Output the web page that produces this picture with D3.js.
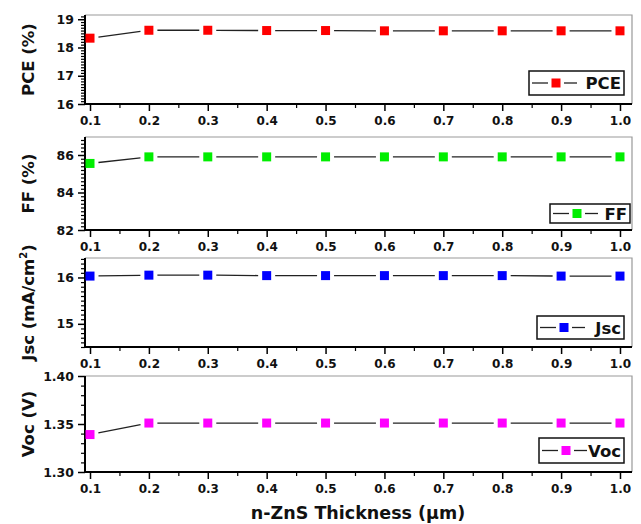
<!DOCTYPE html>
<html>
<head>
<meta charset="utf-8">
<script src="https://cdn.jsdelivr.net/npm/d3@7"></script>
<style>
  html, body { margin: 0; padding: 0; background: #fff; }
  svg { display: block; }
  text { font-family: "DejaVu Sans", Verdana, sans-serif; font-weight: bold; }
</style>
</head>
<body>
<svg id="chart" width="641" height="524"></svg>
<script>
// n-ZnS layer thickness (µm)
const thickness = [0.1, 0.2, 0.3, 0.4, 0.5, 0.6, 0.7, 0.8, 0.9, 1.0];
const xTicks = [0.1, 0.2, 0.3, 0.4, 0.5, 0.6, 0.7, 0.8, 0.9, 1.0];

// Solar cell parameters versus thickness
const pce = [18.33, 18.61, 18.61, 18.60, 18.60, 18.59, 18.59, 18.59, 18.59, 18.59];
const ff  = [85.55, 85.90, 85.90, 85.90, 85.90, 85.90, 85.90, 85.90, 85.90, 85.90];
const jsc = [16.03, 16.05, 16.05, 16.04, 16.04, 16.04, 16.04, 16.04, 16.03, 16.03];
const voc = [1.339, 1.351, 1.351, 1.351, 1.351, 1.351, 1.351, 1.351, 1.351, 1.351];

const pceTicks = [16, 17, 18, 19];
const ffTicks  = [82, 84, 86];
const jscTicks = [15, 16];
const vocTicks = [1.30, 1.35, 1.40];

const panels = [
  { name: "PCE", title: "PCE (%)", values: pce, color: "#ff0000", domain: [16, 19.15], ticks: pceTicks, minor: 0.1, fmt: d3.format("d"),
    top: 15, bottom: 104, legend: { x: 529, y: 71, w: 95, h: 24 } },
  { name: "FF", title: "FF (%)", values: ff, color: "#00ee00", domain: [82, 86.96], ticks: ffTicks, minor: 0.2, fmt: d3.format("d"),
    top: 137, bottom: 230, legend: { x: 550, y: 204, w: 80, h: 19 } },
  { name: "Jsc", title: "Jsc (mA/cm", sup: "2", titleEnd: ")", values: jsc, color: "#0000ff", domain: [14.5, 16.42], ticks: jscTicks, minor: 0.1, fmt: d3.format("d"),
    top: 258, bottom: 347, legend: { x: 537, y: 316, w: 87, h: 23 } },
  { name: "Voc", title: "Voc (V)", values: voc, color: "#ff00ff", domain: [1.30, 1.40], ticks: vocTicks, minor: 0.01, fmt: d3.format(".2f"),
    top: 376, bottom: 472, legend: { x: 539, y: 438, w: 85, h: 25 } }
];

const svg = d3.select("#chart");
const left = 85, right = 632;
const x = d3.scaleLinear().domain([0.0915, 1.0204]).range([left, right]);

const xMinor = d3.range(0.15, 1.0, 0.1);

panels.forEach(p => {
  const y = d3.scaleLinear().domain(p.domain).range([p.bottom, p.top]);
  const g = svg.append("g");

  // frame: light top/right edges
  g.append("path")
    .attr("d", `M${left},${p.top}H${right}V${p.bottom}`)
    .attr("fill", "none").attr("stroke", "#999").attr("stroke-width", 1.2);

  // y axis
  const yMinorVals = d3.range(p.domain[0], p.domain[1] + 1e-9, p.minor)
    .filter(v => !p.ticks.some(t => Math.abs(t - v) < 1e-6));
  const ya = g.append("g").attr("transform", `translate(${left},0)`);
  ya.call(d3.axisLeft(y).tickValues(yMinorVals).tickSize(4).tickFormat(""))
    .call(a => a.select(".domain").remove())
    .call(a => a.selectAll("line").attr("stroke", "#000").attr("stroke-width", 1.2));
  const yb = g.append("g").attr("transform", `translate(${left},0)`);
  yb.call(d3.axisLeft(y).tickValues(p.ticks).tickSize(7).tickPadding(4).tickFormat(p.fmt).tickSizeOuter(0))
    .call(a => a.select(".domain").attr("stroke-width", 2).attr("d", `M0,${p.top}V${p.bottom}`))
    .call(a => a.selectAll("line").attr("stroke", "#000").attr("stroke-width", 1.5))
    .call(a => a.selectAll("text").attr("font-size", 12.5).attr("font-weight", "bold").attr("fill", "#111")
      .attr("font-family", "'DejaVu Sans', Verdana, sans-serif"));

  // x axis
  const xa = g.append("g").attr("transform", `translate(0,${p.bottom})`);
  xa.call(d3.axisBottom(x).tickValues(xMinor).tickSize(4).tickFormat(""))
    .call(a => a.select(".domain").remove())
    .call(a => a.selectAll("line").attr("stroke", "#000").attr("stroke-width", 1.2));
  const xb = g.append("g").attr("transform", `translate(0,${p.bottom})`);
  xb.call(d3.axisBottom(x).tickValues(xTicks).tickSize(7).tickPadding(5).tickFormat(d3.format(".1f")).tickSizeOuter(0))
    .call(a => a.select(".domain").attr("stroke-width", 2).attr("d", `M${left},0H${right}`))
    .call(a => a.selectAll("line").attr("stroke", "#000").attr("stroke-width", 1.5))
    .call(a => a.selectAll("text").attr("font-size", 12).attr("font-weight", "bold").attr("fill", "#111")
      .attr("font-family", "'DejaVu Sans', Verdana, sans-serif"));

  // connecting line, broken around each symbol
  const pts = thickness.map((t, i) => [x(t), y(p.values[i])]);
  const gap = 8.5;
  for (let i = 0; i < pts.length - 1; i++) {
    const [x0, y0] = pts[i], [x1, y1] = pts[i + 1];
    const len = Math.hypot(x1 - x0, y1 - y0);
    const ux = (x1 - x0) / len, uy = (y1 - y0) / len;
    g.append("line")
      .attr("x1", x0 + ux * gap).attr("y1", y0 + uy * gap)
      .attr("x2", x1 - ux * gap).attr("y2", y1 - uy * gap)
      .attr("stroke", "#222").attr("stroke-width", 1.3);
  }

  // square symbols
  const s = 9;
  g.selectAll("rect.pt").data(pts).join("rect").attr("class", "pt")
    .attr("x", d => d[0] - s / 2).attr("y", d => d[1] - s / 2)
    .attr("width", s).attr("height", s).attr("fill", p.color);

  // y title
  const cy = (p.top + p.bottom) / 2;
  const tt = g.append("text")
    .attr("transform", `translate(34,${cy}) rotate(-90)`)
    .attr("text-anchor", "middle").attr("font-size", 16.5).attr("fill", "#111")
    .text(p.title);
  if (p.sup) {
    tt.append("tspan").attr("font-size", 10).attr("dy", -7).text(p.sup);
    tt.append("tspan").attr("dy", 7).text(p.titleEnd);
  }

  // legend
  const L = p.legend;
  const lg = g.append("g");
  lg.append("rect").attr("x", L.x).attr("y", L.y).attr("width", L.w).attr("height", L.h)
    .attr("fill", "#fff").attr("stroke", "#111").attr("stroke-width", 1.5);
  const ly = L.y + L.h / 2;
  const lx0 = L.x + 3, lmid = L.x + 27, lx1 = L.x + 48;
  lg.append("line").attr("x1", lx0).attr("x2", lmid - 8).attr("y1", ly).attr("y2", ly)
    .attr("stroke", "#222").attr("stroke-width", 1.3);
  lg.append("line").attr("x1", lmid + 8).attr("x2", lx1).attr("y1", ly).attr("y2", ly)
    .attr("stroke", "#222").attr("stroke-width", 1.3);
  lg.append("rect").attr("x", lmid - s / 2).attr("y", ly - s / 2).attr("width", s).attr("height", s)
    .attr("fill", p.color);
  lg.append("text").attr("x", L.x + L.w - 3).attr("y", ly + 6).attr("text-anchor", "end")
    .attr("font-size", 16.5).attr("fill", "#111").text(p.name);
});

// x title
svg.append("text").attr("x", 358).attr("y", 519).attr("text-anchor", "middle")
  .attr("font-size", 17.5).attr("fill", "#111").text("n-ZnS Thickness (μm)");
</script>
</body>
</html>
